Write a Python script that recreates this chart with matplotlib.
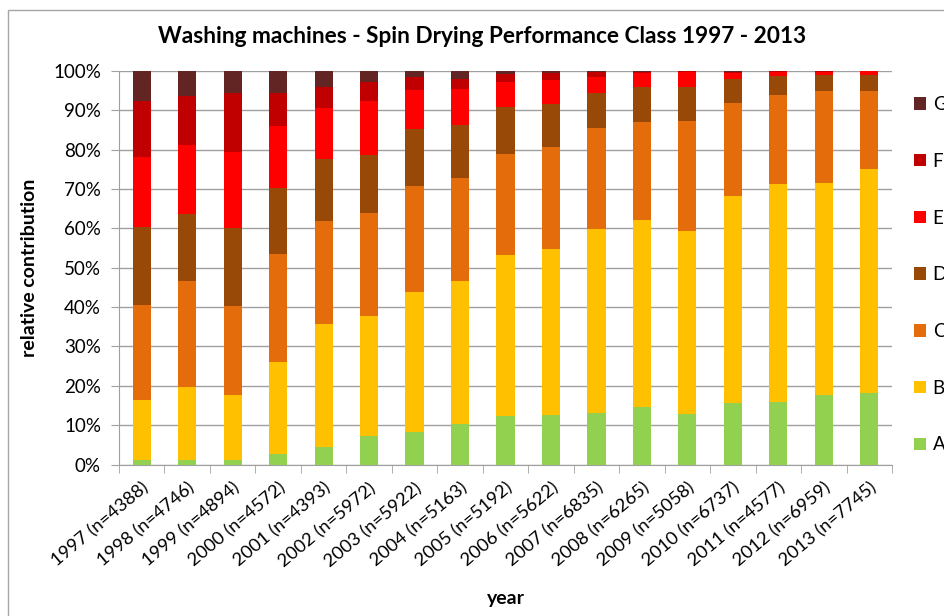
import numpy as np
import matplotlib
matplotlib.use('Agg')
import matplotlib.pyplot as plt
import matplotlib.transforms as mtransforms
from matplotlib.patches import Rectangle
from matplotlib.ticker import PercentFormatter, FixedLocator

# Data (share of each class per year, in %)
years = ['1997 (n=4388)', '1998 (n=4746)', '1999 (n=4894)', '2000 (n=4572)', '2001 (n=4393)',
         '2002 (n=5972)', '2003 (n=5922)', '2004 (n=5163)', '2005 (n=5192)', '2006 (n=5622)',
         '2007 (n=6835)', '2008 (n=6265)', '2009 (n=5058)', '2010 (n=6737)', '2011 (n=4577)',
         '2012 (n=6959)', '2013 (n=7745)']
A = [1.1, 1.2, 1.1, 2.7, 4.4, 7.2, 8.3, 10.2, 12.4, 12.7, 13.2, 14.5, 12.9, 15.7, 16.0, 17.7, 18.1]
B = [15.3, 18.4, 16.6, 23.4, 31.3, 30.5, 35.5, 36.4, 40.8, 42.1, 46.6, 47.6, 46.4, 52.6, 55.3, 53.8, 56.9]
C = [24.1, 27.0, 22.6, 27.4, 26.2, 26.2, 27.0, 26.1, 25.7, 25.8, 25.7, 24.9, 27.9, 23.6, 22.7, 23.4, 19.9]
D = [19.9, 17.1, 19.9, 16.8, 15.7, 14.8, 14.5, 13.6, 11.9, 10.9, 8.8, 8.9, 8.7, 6.0, 4.7, 4.0, 4.0]
E = [17.7, 17.4, 19.1, 15.8, 12.9, 13.7, 9.9, 9.1, 6.3, 6.1, 4.3, 3.7, 3.9, 1.7, 1.1, 0.9, 1.0]
F = [14.4, 12.6, 15.2, 8.4, 5.4, 4.7, 3.2, 2.6, 2.1, 1.8, 1.1, 0.2, 0.1, 0.1, 0.1, 0.1, 0.05]
G = [7.5, 6.3, 5.5, 5.5, 4.1, 2.9, 1.6, 2.0, 0.8, 0.6, 0.3, 0.2, 0.1, 0.3, 0.1, 0.1, 0.05]

classes = ['A', 'B', 'C', 'D', 'E', 'F', 'G']
series = [A, B, C, D, E, F, G]
colors = ['#92D050', '#FFC000', '#E46C0A', '#984807', '#FF0000', '#C00000', '#632523']

plt.rcParams['font.family'] = ['Lato', 'DejaVu Sans']
grey = '#a0a0a0'

fig = plt.figure(figsize=(9.44, 6.16), dpi=100)
ax = fig.add_axes([119 / 944, 1 - 464.5 / 616, 773 / 944, 393.5 / 616])

x = np.arange(len(years))
bottom = np.zeros(len(years))
handles = []
for name, vals, col in zip(classes, series, colors):
    h = ax.bar(x, vals, 0.4, bottom=bottom, color=col, label=name, linewidth=0, zorder=3)
    handles.append(h)
    bottom += np.array(vals)

ax.set_xlim(-0.5, len(years) - 0.5)
ax.set_ylim(0, 100)
ax.set_yticks(np.arange(0, 101, 10))
ax.yaxis.set_major_formatter(PercentFormatter(100, decimals=0))
ax.grid(axis='y', color=grey, linewidth=1, zorder=0)

ax.set_xticks(x)
ax.set_xticklabels(years, rotation=40, ha='right', rotation_mode='anchor', fontsize=13.2)
# shift the rotated labels a little to the right, like the original
shift = mtransforms.ScaledTranslation(7 / 100, 0, fig.dpi_scale_trans)
for lbl in ax.get_xticklabels():
    lbl.set_transform(lbl.get_transform() + shift)
ax.xaxis.set_minor_locator(FixedLocator(np.arange(-0.5, len(years), 1)))
ax.tick_params(axis='x', which='major', length=0, pad=11)
ax.tick_params(axis='x', which='minor', length=6, color=grey)
ax.tick_params(axis='y', length=6, color=grey, labelsize=13.5, pad=7)

for s in ['top', 'right']:
    ax.spines[s].set_visible(False)
for s in ['left', 'bottom']:
    ax.spines[s].set_color(grey)

ax.set_ylabel('relative contribution', fontsize=14, fontweight='bold')
ax.yaxis.set_label_coords(-0.105, 0.5)
ax.set_xlabel('year', fontsize=14, fontweight='bold')
ax.xaxis.set_label_coords(0.5, -0.318)

fig.text(0.511, 0.94, 'Washing machines - Spin Drying Performance Class 1997 - 2013',
         ha='center', va='center', fontsize=16.3, fontweight='bold')

fig.legend(handles[::-1], classes[::-1], loc='upper left', bbox_to_anchor=(914 / 944, 1 - 96 / 616),
           frameon=False, fontsize=13.5, handlelength=0.65, handleheight=0.65,
           handletextpad=0.35, labelspacing=2.12, borderpad=0, borderaxespad=0)

# chart border
fig.patches.append(Rectangle((8 / 944, -0.5), 1.5, 1.5 - 10 / 616, transform=fig.transFigure,
                             fill=False, edgecolor='#a6a6a6', linewidth=1))

fig.savefig('out.png', dpi=100)
